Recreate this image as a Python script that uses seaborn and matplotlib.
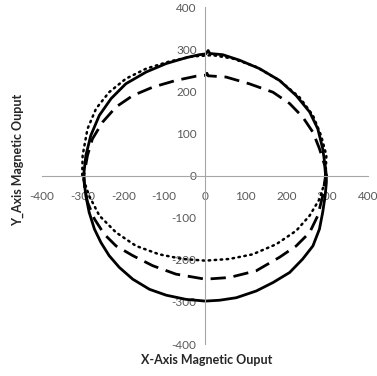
import matplotlib
matplotlib.use("Agg")
import matplotlib.pyplot as plt
from matplotlib.ticker import MultipleLocator
import seaborn as sns
import pandas as pd

# Solid series (counter-clockwise from +X axis)
solid_x = [298, 296, 289, 277, 257, 224, 183, 134, 85, 44, 12, 8, 2, -14, -46, -95, -144, -194, -230, -259, -280, -292, -297,
           -296, -292, -284, -271, -255, -235, -210, -177, -136, -95, -46, 1, 36, 77, 126, 167, 208, 240, 265,
           281, 289, 295, 298, 298]
solid_y = [0, 16, 64, 111, 151, 190, 226, 254, 274, 287, 290, 297, 289, 287, 280, 266, 246, 218, 183, 143, 95, 48, 4,
           -16, -48, -87, -127, -159, -190, -218, -246, -270, -284, -294, -298, -296, -290, -274, -254, -230, -198, -167,
           -127, -87, -48, -16, 0]

# Dashed series
dashed_x = [296, 294, 281, 265, 240, 208, 167, 109, 52, 8, 5, 1, -22, -71, -128, -177, -218, -251, -276, -288, -297,
            -295, -288, -271, -247, -218, -177, -128, -71, 1, 60, 126, 183, 224, 257, 277, 289, 296]
dashed_y = [0, 24, 64, 103, 139, 171, 198, 218, 234, 237, 243, 238, 236, 226, 210, 190, 163, 127, 87, 48, 0,
            -30, -63, -103, -139, -167, -190, -214, -234, -246, -242, -226, -194, -167, -135, -95, -48, 0]

# Dotted series
dotted_x = [296, 298, 285, 265, 232, 183, 126, 68, 19, -30, -87, -144, -194, -235, -267, -288, -300, -301,
            -284, -259, -218, -169, -112, -55, 1, 60, 117, 175, 224, 257, 281, 294, 296]
dotted_y = [0, 48, 95, 143, 186, 226, 258, 278, 286, 283, 271, 254, 230, 198, 159, 111, 48, 0,
            -48, -95, -135, -167, -187, -198, -202, -198, -187, -163, -131, -95, -56, -16, 0]

x_ticks = [-400, -300, -200, -100, 0, 100, 200, 300, 400]
y_ticks = [-400, -300, -200, -100, 0, 100, 200, 300, 400]
x_label = "X-Axis Magnetic Ouput"
y_label = "Y_Axis Magnetic Ouput"

sns.set_style("white")
plt.rcParams['font.family'] = ['Lato', 'DejaVu Sans']

fig = plt.figure(figsize=(3.77, 3.76), dpi=100)
ax = fig.add_axes([0.111, 0.085, 0.865, 0.896])

df_s = pd.DataFrame({"x": solid_x, "y": solid_y})
df_d = pd.DataFrame({"x": dashed_x, "y": dashed_y})
df_o = pd.DataFrame({"x": dotted_x, "y": dotted_y})

sns.lineplot(data=df_o, x="x", y="y", sort=False, estimator=None, ax=ax,
             color="black", linewidth=1.8, linestyle=(0, (0.6, 1.8)), dash_capstyle="round")
sns.lineplot(data=df_d, x="x", y="y", sort=False, estimator=None, ax=ax,
             color="black", linewidth=2.0, linestyle=(0, (5.5, 2.8)))
sns.lineplot(data=df_s, x="x", y="y", sort=False, estimator=None, ax=ax,
             color="black", linewidth=2.0)

ax.set_xlim(-400, 400)
ax.set_ylim(-400, 400)
ax.set_xticks(x_ticks)
ax.set_yticks(y_ticks)
ax.set_xticklabels([str(v) for v in x_ticks])
ax.set_yticklabels([str(v) for v in y_ticks])
ax.xaxis.set_minor_locator(MultipleLocator(10))
ax.yaxis.set_minor_locator(MultipleLocator(10))

for s in ["top", "right"]:
    ax.spines[s].set_visible(False)
for s in ["left", "bottom"]:
    ax.spines[s].set_position("zero")
    ax.spines[s].set_color("#a6a6a6")
    ax.spines[s].set_linewidth(0.8)

ax.tick_params(axis="both", which="major", direction="inout", length=6, width=0.8,
               color="#a6a6a6", labelsize=8.5, labelcolor="#595959", pad=6)
ax.tick_params(axis="both", which="minor", direction="inout", length=4, width=0.6,
               color="#a6a6a6")
ax.tick_params(axis="x", which="major", pad=8)
ax.tick_params(axis="y", which="major", pad=3)

ax.set_xlabel("")
ax.set_ylabel("")
fig.text(207 / 377, 1 - 360 / 376, x_label, ha="center", va="center",
         fontsize=9, fontweight="bold", color="#262626")
fig.text(18 / 377, 1 - 160 / 376, y_label, ha="center", va="center", rotation=90,
         fontsize=9, fontweight="bold", color="#262626")

fig.savefig("out.png", dpi=100)
